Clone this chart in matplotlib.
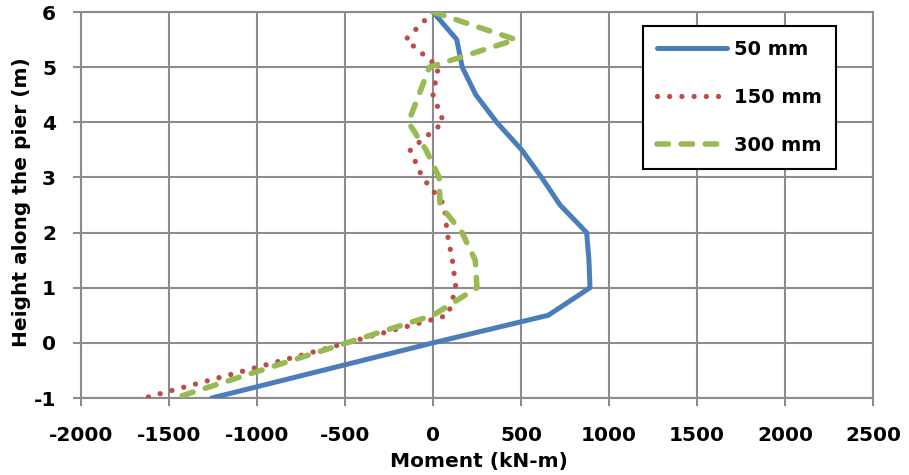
import matplotlib
matplotlib.use("Agg")
import matplotlib.pyplot as plt

heights = [6, 5.5, 5, 4.5, 4, 3.5, 3, 2.5, 2, 1.5, 1, 0.5, 0, -0.5, -1]
moment_50 = [0, 135, 166, 243, 362, 504, 617, 722, 873, 886, 892, 655, 0, -628, -1257]
moment_150 = [0, -155, 30, 0, 60, -130, -60, 65, 80, 110, 130, 85, -490, -1065, -1640]
moment_300 = [0, 470, -20, -80, -140, -40, 35, 40, 165, 240, 250, 0, -490, -980, -1466]
labels = ["50 mm", "150 mm", "300 mm"]
x_ticks = [-2000, -1500, -1000, -500, 0, 500, 1000, 1500, 2000, 2500]
y_ticks = [-1, 0, 1, 2, 3, 4, 5, 6]

plt.rcParams['font.family'] = ['DejaVu Sans']
plt.rcParams['font.weight'] = 'bold'
plt.rcParams['axes.unicode_minus'] = False

fig = plt.figure(figsize=(9.09, 4.75), dpi=100)
ax = fig.add_axes([81/909, 1-398/475, (873-81)/909, (398-12)/475])

ax.plot(moment_50, heights, color="#4A7EBB", lw=3.6, solid_capstyle='round',
        solid_joinstyle='round', label=labels[0], zorder=3)
ax.plot(moment_150, heights, color="#BE4B48", lw=3.8, linestyle=(0, (0.01, 2.3)),
        dash_capstyle='round', label=labels[1], zorder=3)
ax.plot(moment_300, heights, color="#98B954", lw=4.0, linestyle=(0, (2.05, 2.3)),
        dash_capstyle='round', label=labels[2], zorder=3)

ax.set_xlim(-2000, 2500)
ax.set_ylim(-1, 6)
ax.set_xticks(x_ticks)
ax.set_yticks(y_ticks)
ax.grid(True, color="#8C8C8C", lw=1.5, zorder=0)
ax.set_axisbelow(True)
for s in ax.spines.values():
    s.set_color("#8C8C8C")
    s.set_linewidth(1.5)
ax.tick_params(axis='both', direction='out', length=6, width=1.5, color="#8C8C8C",
               labelsize=14.5)
ax.tick_params(axis='x', pad=14)
ax.tick_params(axis='y', pad=12)
for t in ax.get_xticklabels() + ax.get_yticklabels():
    t.set_fontweight('bold')

fig.text(479/909, 1-462/475, "Moment (kN-m)", ha='center', va='center',
         fontsize=14.5, fontweight='bold')
fig.text(22/909, 1-202/475, "Height along the pier (m)", ha='center', va='center',
         rotation=90, fontsize=14.5, fontweight='bold')

leg = ax.legend(loc='upper left', bbox_to_anchor=(643/909, 1-26/475),
                bbox_transform=fig.transFigure, frameon=True, fancybox=False,
                edgecolor='black', handlelength=3.6, handletextpad=0.4,
                labelspacing=1.5, borderpad=0.7, borderaxespad=0,
                prop={'size': 14, 'weight': 'bold'})
leg.get_frame().set_linewidth(1.5)
leg.get_frame().set_alpha(1)

fig.savefig("out.png", dpi=100)
